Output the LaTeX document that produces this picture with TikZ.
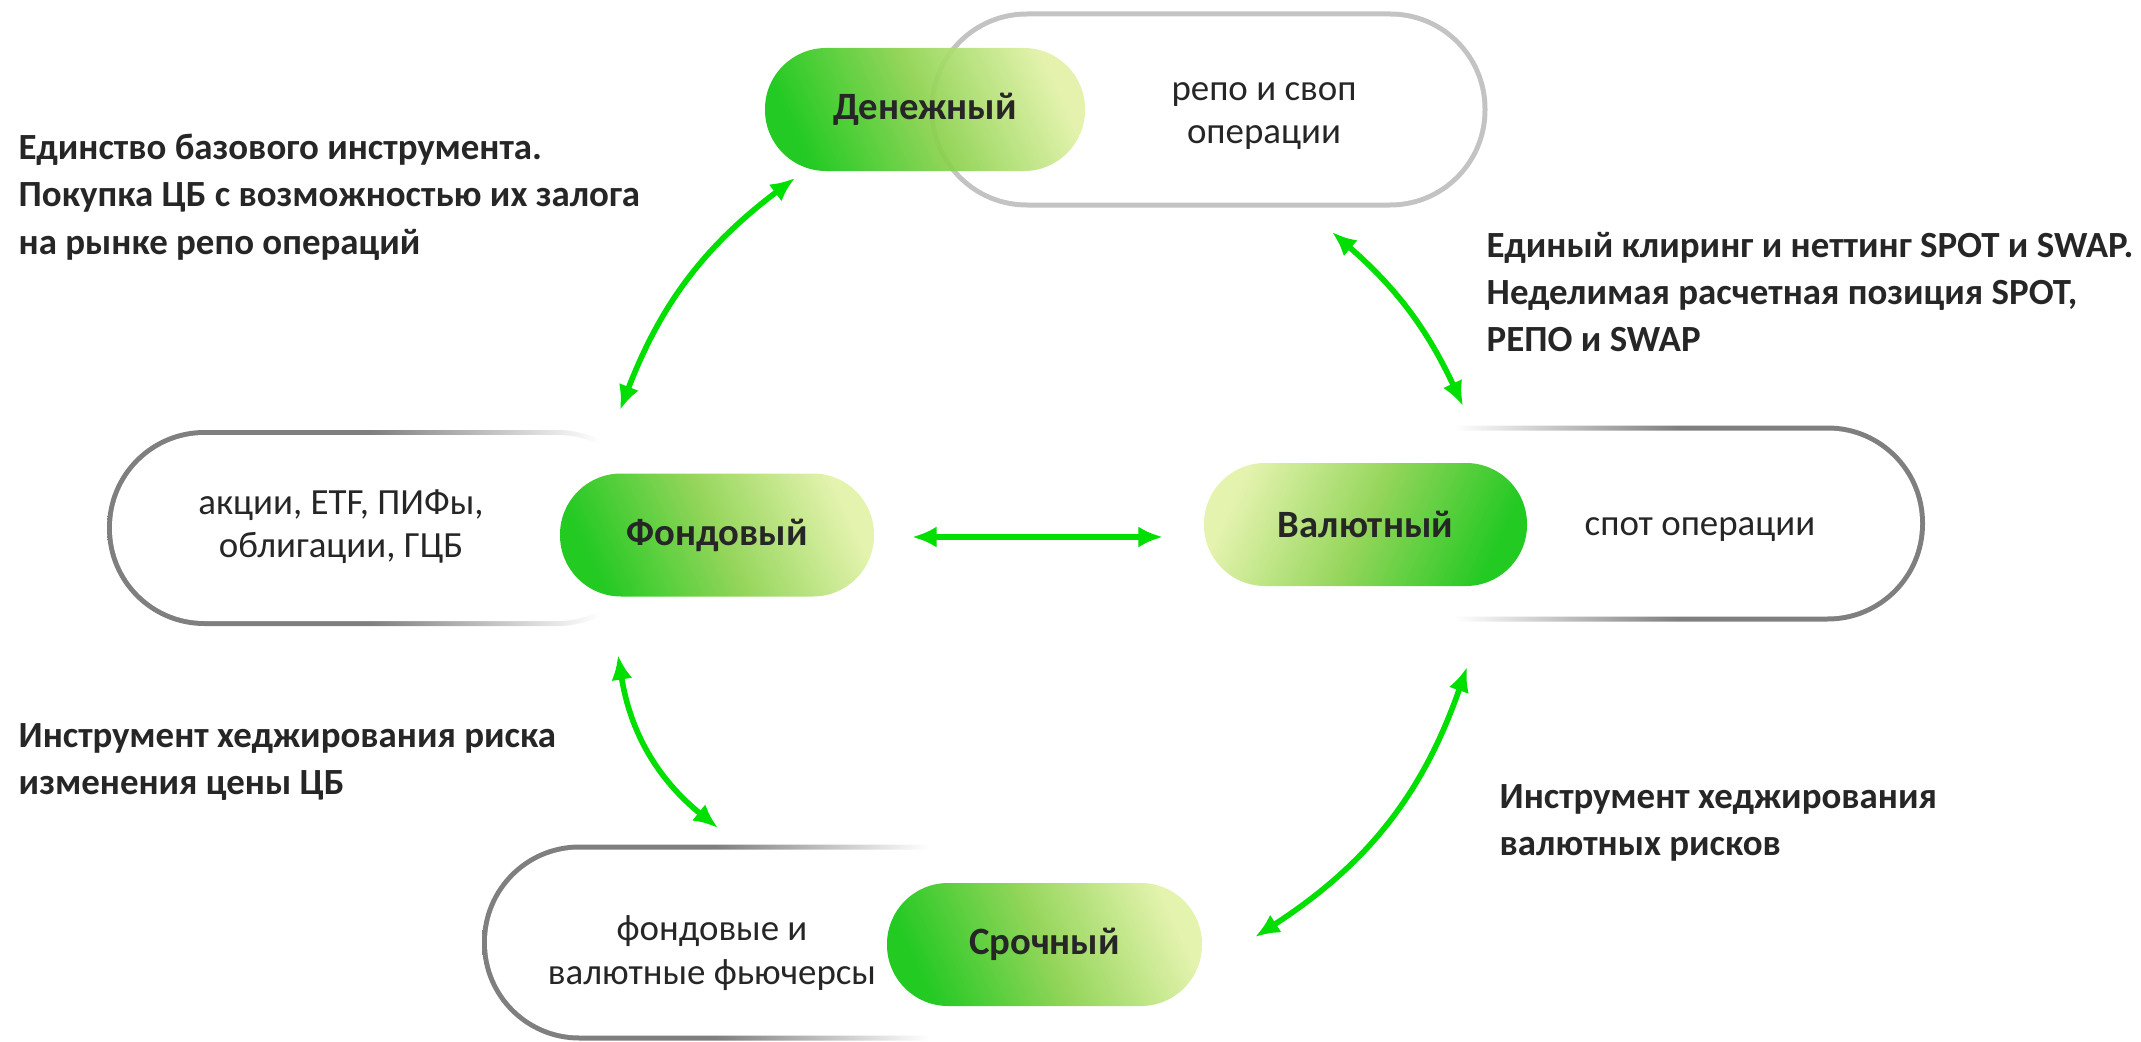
\documentclass[tikz,border=0pt]{standalone}
\usepackage{fontspec}
\setmainfont{Carlito}
\usepackage{xcolor}
\usepackage{tikz}
\usetikzlibrary{arrows.meta, positioning, calc}

\definecolor{txt}{HTML}{262626}
\definecolor{linkgreen}{HTML}{00DF00}
\definecolor{rimgray}{HTML}{7F7F7F}
\definecolor{rimlight}{HTML}{C3C3C3}
\definecolor{pilldark}{HTML}{12C612}
\definecolor{pillmid}{HTML}{8CD24E}
\definecolor{pilllight}{HTML}{E2F2A8}

% rim fades: dark grey on one side, white on the other
\pgfdeclarehorizontalshading{rimleft}{100bp}{color(0bp)=(rimgray); color(49bp)=(rimgray); color(70bp)=(white); color(100bp)=(white)}
\pgfdeclarehorizontalshading{rimlow}{100bp}{color(0bp)=(rimgray); color(46bp)=(rimgray); color(65bp)=(white); color(100bp)=(white)}
\pgfdeclarehorizontalshading{rimright}{100bp}{color(0bp)=(white); color(33bp)=(white); color(53bp)=(rimgray); color(100bp)=(rimgray)}

\tikzstyle{arrow} = [line width=1.6pt, linkgreen, {Latex[length=7pt,width=6pt]}-{Latex[length=7pt,width=6pt]}]
\tikzstyle{rim} = [rectangle, rounded corners=0.975cm, minimum width=5.58cm, minimum height=1.96cm, inner sep=0pt]
\tikzstyle{hole} = [rectangle, fill=white, rounded corners=0.925cm, minimum width=5.48cm, minimum height=1.86cm, inner sep=0pt]
\tikzstyle{pill} = [rectangle, rounded corners=0.61cm, minimum width=3.2cm, minimum height=1.23cm, inner sep=0pt, fill opacity=0.93, text opacity=1, text=txt, font=\fontsize{11}{13}\selectfont\bfseries]
\tikzstyle{inbox} = [align=center, text=txt, font=\fontsize{10.5}{12.3}\selectfont]
\tikzstyle{note} = [anchor=west, align=left, inner sep=0pt, text=txt, font=\fontsize{10.5}{13.5}\selectfont\bfseries]

\begin{document}
\begin{tikzpicture}
    \useasboundingbox (0,0) rectangle (21.41,10.41);

    % Денежный
    \node[rim, fill=rimlight] (mrim) at (12.085, 9.315) {};
    \node[hole] (mbox) at (mrim.center) {};
    \node[inbox] (mtext) at (12.64, 9.25) {репо и своп\\операции};
    \node[pill, bottom color=pilldark, top color=pilllight, middle color=pillmid, shading angle=-65] (money) at (9.25, 9.315) {Денежный};

    % Фондовый
    \node[rim, shading=rimleft, minimum width=5.48cm] (frim) at (3.81, 5.13) {};
    \node[hole, minimum width=5.38cm] (fbox) at (frim.center) {};
    \node[inbox] (ftext) at (3.41, 5.14) {акции, ETF, ПИФы,\\облигации, ГЦБ};
    \node[pill, minimum width=3.14cm, bottom color=pilldark, top color=pilllight, middle color=pillmid, shading angle=-65] (stock) at (7.17, 5.06) {Фондовый};

    % Валютный
    \node[rim, shading=rimright, minimum width=5.60cm] (vrim) at (16.45, 5.175) {};
    \node[hole, minimum width=5.50cm] (vbox) at (vrim.center) {};
    \node[inbox] (vtext) at (17.00, 5.11) {спот операции};
    \node[pill, minimum width=3.23cm, bottom color=pilldark, top color=pilllight, middle color=pillmid, shading angle=65] (fx) at (13.655, 5.165) {Валютный};

    % Срочный
    \node[rim, shading=rimlow] (srim) at (7.61, 0.985) {};
    \node[hole] (sbox) at (srim.center) {};
    \node[inbox] (stext) at (7.12, 0.88) {фондовые и\\валютные фьючерсы};
    \node[pill, minimum width=3.15cm, bottom color=pilldark, top color=pilllight, middle color=pillmid, shading angle=-65] (deriv) at (10.445, 0.965) {Срочный};

    % Notes
    \node[note] (n1) at (0.18, 8.44) {Единство базового инструмента.\\Покупка ЦБ с возможностью их залога\\на рынке репо операций};
    \node[note] (n2) at (14.86, 7.49) {Единый клиринг и неттинг SPOT и SWAP.\\Неделимая расчетная позиция SPOT,\\РЕПО и SWAP};
    \node[note] (n3) at (0.18, 2.79) {Инструмент хеджирования риска\\изменения цены ЦБ};
    \node[note] (n4) at (14.99, 2.18) {Инструмент хеджирования\\валютных рисков};

    % Arrow ends
    \coordinate (a1s) at (6.20, 6.31);
    \coordinate (a1e) at (7.95, 8.63);
    \coordinate (a2s) at (13.32, 8.09);
    \coordinate (a2e) at (14.63, 6.35);
    \coordinate (a3s) at (9.12, 5.04);
    \coordinate (a3e) at (11.63, 5.04);
    \coordinate (a4s) at (6.18, 3.86);
    \coordinate (a4e) at (7.18, 2.13);
    \coordinate (a5s) at (14.67, 3.74);
    \coordinate (a5e) at (12.55, 1.04);

    % Arrows
    \draw[arrow] (a1s) to[bend left=16] (a1e);
    \draw[arrow] (a2s) to[bend left=12] (a2e);
    \draw[arrow] (a3s) -- (a3e);
    \draw[arrow] (a4s) to[bend right=21] (a4e);
    \draw[arrow] (a5s) to[bend left=19] (a5e);
\end{tikzpicture}
\end{document}
